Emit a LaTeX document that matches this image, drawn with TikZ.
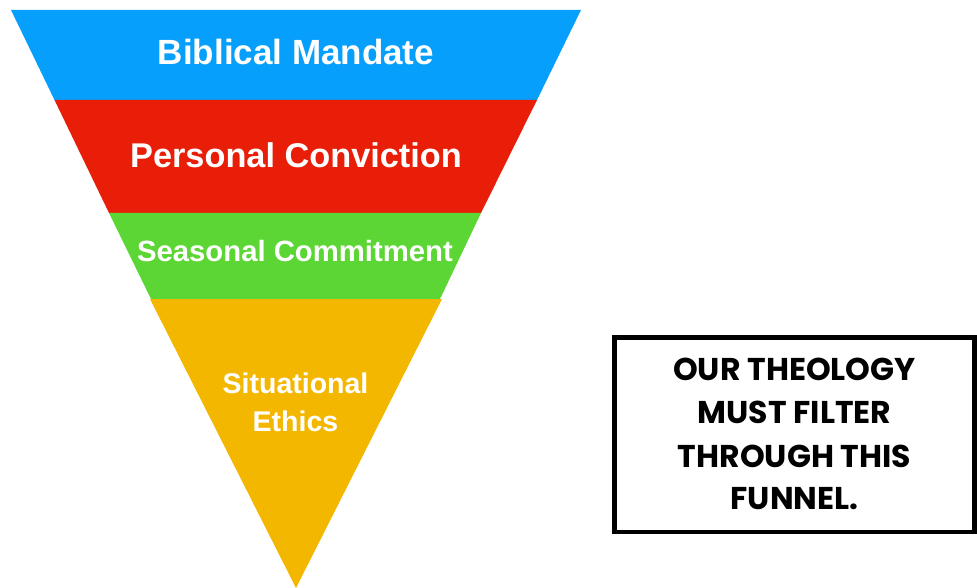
\documentclass[tikz,border=0pt]{standalone}
\usepackage{fontspec}
\setmainfont{Liberation Sans}
\newfontfamily\boxfont{Poppins}
\definecolor{bandblue}{RGB}{7,159,252}
\definecolor{bandred}{RGB}{232,30,8}
\definecolor{bandgreen}{RGB}{92,214,52}
\definecolor{bandyellow}{RGB}{244,183,0}
\begin{document}
\begin{tikzpicture}[x=1pt,y=-1pt,
  band/.style={draw=none},
  lbl/.style={text=white, anchor=base, inner sep=0pt},
  boxline/.style={text=black, anchor=base, inner sep=0pt, font=\boxfont\bfseries\fontsize{31.5}{36}\selectfont}]
\useasboundingbox (0,0) rectangle (977,588);
% funnel bands
\fill[band, bandblue] (11,10) -- (581,10) -- (537,100) -- (54.5,100) -- cycle;
\fill[band, bandred] (54.5,100) -- (537,100) -- (481,213) -- (109,213) -- cycle;
\fill[band, bandgreen] (109,213) -- (481,213) -- (440,299) -- (151,299) -- cycle;
\fill[band, bandyellow] (150,299) -- (442,299) -- (296,588) -- cycle;
% band labels
\node[lbl, font=\bfseries\fontsize{35}{40}\selectfont] (biblical) at (296,65) {Biblical Mandate};
\node[lbl, font=\bfseries\fontsize{34.3}{40}\selectfont] (personal) at (296,167.3) {Personal Conviction};
\node[lbl, font=\bfseries\fontsize{29.3}{34}\selectfont] (seasonal) at (295,261.7) {Seasonal Commitment};
\node[lbl, font=\bfseries\fontsize{28.5}{34}\selectfont] (situational) at (295.5,393.3) {Situational};
\node[lbl, font=\bfseries\fontsize{28.5}{34}\selectfont] (ethics) at (295.5,431.7) {Ethics};
% framed note
\node[draw=black, line width=4.5pt, minimum width=360pt, minimum height=194.5pt, inner sep=0pt] (note) at (794.5,434.75) {};
\node[boxline] (l1) at (794.5,380) {OUR THEOLOGY};
\node[boxline] (l2) at (794.5,423.5) {MUST FILTER};
\node[boxline] (l3) at (794.5,467.5) {THROUGH THIS};
\node[boxline] (l4) at (794.5,509.5) {FUNNEL.};
\end{tikzpicture}
\end{document}
